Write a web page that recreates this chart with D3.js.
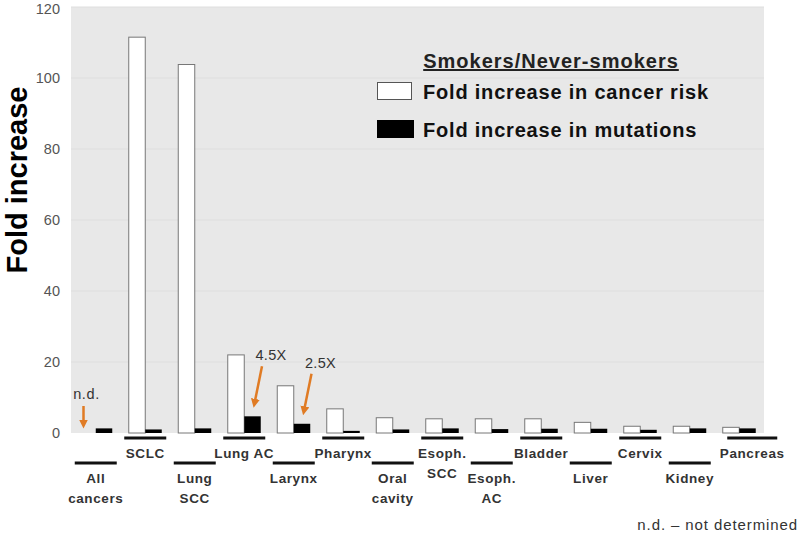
<!DOCTYPE html>
<html>
<head>
<meta charset="utf-8">
<script src="https://cdn.jsdelivr.net/npm/d3@7/dist/d3.min.js"></script>
<style>
  html, body { margin: 0; padding: 0; background: #ffffff; }
  svg { display: block; }
</style>
</head>
<body>
<svg id="chart" width="800" height="536"></svg>
<script>
// ---- data ----
const categories = ["All cancers", "SCLC", "Lung SCC", "Lung AC", "Larynx", "Pharynx", "Oral cavity",
  "Esoph. SCC", "Esoph. AC", "Bladder", "Liver", "Cervix", "Kidney", "Pancreas"];
const labelLines = [["All", "cancers"], ["SCLC"], ["Lung", "SCC"], ["Lung AC"], ["Larynx"], ["Pharynx"],
  ["Oral", "cavity"], ["Esoph.", "SCC"], ["Esoph.", "AC"], ["Bladder"], ["Liver"], ["Cervix"], ["Kidney"], ["Pancreas"]];
// cancer risk: null = not determined
const cancerRisk = [null, 111.5, 103.8, 22.0, 13.3, 6.8, 4.3, 4.0, 4.0, 4.0, 3.0, 1.9, 1.9, 1.6];
const mutations = [1.3, 1.0, 1.3, 4.7, 2.6, 0.6, 1.0, 1.3, 1.1, 1.2, 1.2, 0.9, 1.3, 1.3];
const yTicks = [0, 20, 40, 60, 80, 100, 120];
const legendTitle = "Smokers/Never-smokers";
const seriesNames = ["Fold increase in cancer risk", "Fold increase in mutations"];
const annotations = [
  { index: 3, text: "4.5X" },
  { index: 4, text: "2.5X" }
];
const footnote = "n.d. \u2013 not determined";
const yTitle = "Fold increase";
</script>
<script>
const svg = d3.select("#chart");
const plot = { left: 71, right: 764, top: 7, bottom: 433 };
const font = "'Liberation Sans', Arial, sans-serif";

const x = d3.scaleBand().domain(categories).range([plot.left, plot.right]).paddingInner(0).paddingOuter(0);
const y = d3.scaleLinear().domain([0, 120]).range([plot.bottom, plot.top]);
const barW = 16.5;

// background
svg.append("rect").attr("x", plot.left).attr("y", plot.top)
  .attr("width", plot.right - plot.left).attr("height", plot.bottom - plot.top)
  .attr("fill", "#e8e8e8");

// grid
svg.append("g").selectAll("line").data(yTicks.filter(d => d > 0)).join("line")
  .attr("x1", plot.left).attr("x2", plot.right)
  .attr("y1", d => y(d)).attr("y2", d => y(d))
  .attr("stroke", "#dedede").attr("stroke-width", 1);

// y axis
const yAxis = d3.axisLeft(y).tickValues(yTicks).tickSize(0).tickPadding(0);
const gy = svg.append("g").attr("transform", `translate(${plot.left - 11},0)`).call(yAxis);
gy.select(".domain").remove();
gy.selectAll("text").attr("font-family", font).attr("font-size", 14.5).attr("fill", "#555")
  .attr("dy", d => d === 120 ? "0.45em" : "0.32em");

// y title
svg.append("text").attr("transform", `translate(27,180) rotate(-90)`)
  .attr("text-anchor", "middle").attr("font-family", font).attr("font-size", 29)
  .attr("font-weight", "bold").attr("fill", "#000").text(yTitle);

// bars
const center = c => x(c) + x.bandwidth() / 2;
svg.append("g").selectAll("rect").data(categories.map((c, i) => ({ c, v: cancerRisk[i] })).filter(d => d.v != null))
  .join("rect")
  .attr("x", d => center(d.c) - barW).attr("y", d => y(d.v))
  .attr("width", barW).attr("height", d => y(0) - y(d.v))
  .attr("fill", "#fff").attr("stroke", "#777").attr("stroke-width", 1);
svg.append("g").selectAll("rect").data(categories.map((c, i) => ({ c, v: mutations[i] })))
  .join("rect")
  .attr("x", d => center(d.c)).attr("y", d => y(d.v))
  .attr("width", barW).attr("height", d => y(0) - y(d.v))
  .attr("fill", "#000");

// category labels with underlines
const lab = svg.append("g");
categories.forEach((c, i) => {
  const cx = center(c);
  const odd = i % 2 === 1;
  const isLast = i === categories.length - 1;
  const lw = isLast ? 50 : 42;
  const off = isLast ? 13 : 0;
  const ly = odd ? 438 : 463;
  lab.append("rect").attr("x", cx - lw / 2 + off).attr("y", ly - 1.5).attr("width", lw).attr("height", 3).attr("fill", "#111");
  const lines = labelLines[i];
  lines.forEach((t, k) => {
    lab.append("text").attr("x", cx + off).attr("y", (odd ? 458 : 483) + k * 20)
      .attr("text-anchor", "middle").attr("font-family", font).attr("font-size", 13.5)
      .attr("font-weight", "bold").attr("fill", "#333").attr("letter-spacing", 0.6).text(t);
  });
});

// arrows
const orange = "#e07b24";
const defs = svg.append("defs");
defs.append("marker").attr("id", "ah").attr("viewBox", "0 0 10 10").attr("refX", 5).attr("refY", 5)
  .attr("markerWidth", 3.6).attr("markerHeight", 3.6).attr("orient", "auto")
  .append("path").attr("d", "M0,0 L10,5 L0,10 z").attr("fill", orange);

// n.d.
const ndx = center(categories[0]) - barW / 2 - 4;
svg.append("text").attr("x", ndx + 3).attr("y", 399).attr("text-anchor", "middle")
  .attr("font-family", font).attr("font-size", 14.5).attr("fill", "#333").attr("letter-spacing", 0.6).text("n.d.");
svg.append("line").attr("x1", ndx).attr("x2", ndx).attr("y1", 406).attr("y2", 424)
  .attr("stroke", orange).attr("stroke-width", 2.5).attr("marker-end", "url(#ah)");

annotations.forEach(a => {
  const c = categories[a.index];
  const bx = center(c) + barW / 2;
  const top = y(mutations[a.index]);
  const ty = top - 56;
  svg.append("text").attr("x", bx + 18.5).attr("y", ty).attr("text-anchor", "middle")
    .attr("font-family", font).attr("font-size", 14.5).attr("fill", "#333").attr("letter-spacing", 0.3).text(a.text);
  svg.append("line").attr("x1", bx + 9.5).attr("y1", ty + 6).attr("x2", bx + 2).attr("y2", top - 13)
    .attr("stroke", orange).attr("stroke-width", 2.5).attr("marker-end", "url(#ah)");
});

// legend
const lg = svg.append("g");
lg.append("text").attr("x", 551).attr("y", 68).attr("text-anchor", "middle")
  .attr("font-family", font).attr("font-size", 20).attr("font-weight", "bold").attr("fill", "#222")
  .attr("letter-spacing", 1).attr("text-decoration", "underline").text(legendTitle);
lg.append("rect").attr("x", 377.5).attr("y", 82.5).attr("width", 34).attr("height", 17)
  .attr("fill", "#fff").attr("stroke", "#555").attr("stroke-width", 1);
lg.append("rect").attr("x", 377).attr("y", 120).attr("width", 37).attr("height", 18).attr("fill", "#000");
lg.append("text").attr("x", 423).attr("y", 99).attr("font-family", font).attr("font-size", 20)
  .attr("font-weight", "bold").attr("fill", "#111").attr("letter-spacing", 0.8).text(seriesNames[0]);
lg.append("text").attr("x", 423).attr("y", 137).attr("font-family", font).attr("font-size", 20)
  .attr("font-weight", "bold").attr("fill", "#111").attr("letter-spacing", 0.8).text(seriesNames[1]);

// footnote
svg.append("text").attr("x", 798).attr("y", 530).attr("text-anchor", "end")
  .attr("font-family", font).attr("font-size", 15).attr("fill", "#333").attr("letter-spacing", 0.9).text(footnote);
</script>
</body>
</html>
